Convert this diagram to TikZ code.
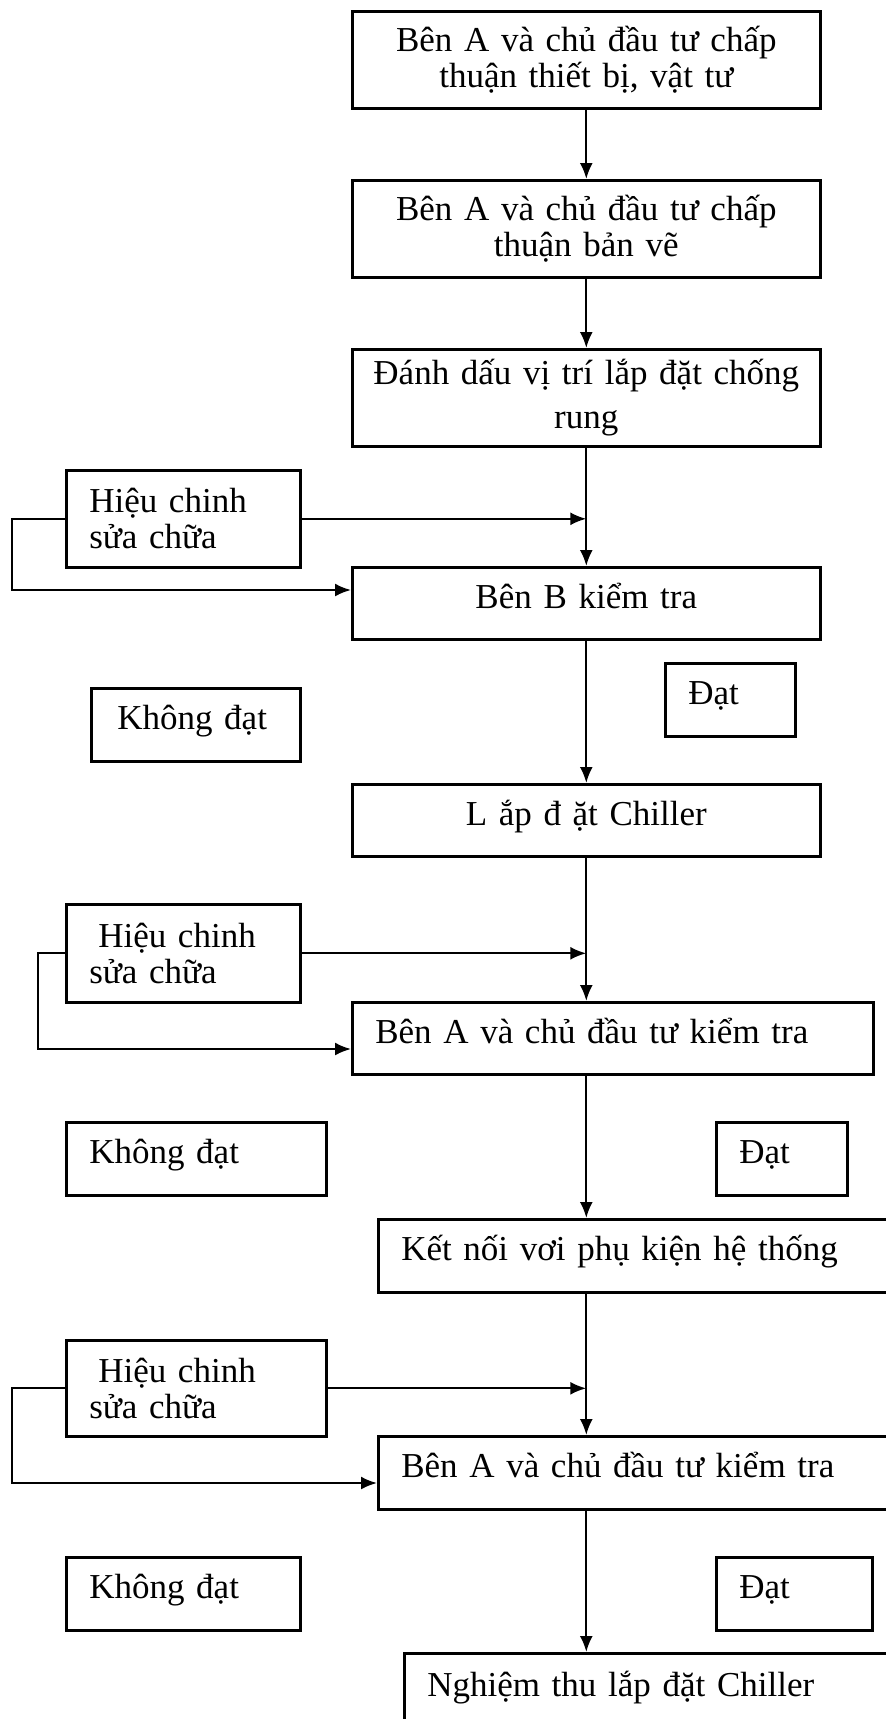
\documentclass[tikz,border=0pt]{standalone}
\usepackage{fontspec}
\setmainfont{Liberation Serif}
\usetikzlibrary{arrows.meta}
\newcommand\boxfont{\fontsize{17.5pt}{18pt}\selectfont}
\newcommand\widefont{\fontsize{17.5pt}{22pt}\selectfont}
\begin{document}
\begin{tikzpicture}[x=0.5pt,y=-0.5pt,
  box/.style={draw, line width=1.3pt, rectangle, anchor=north west,
    inner ysep=0pt, font=\boxfont},
  cbox/.style={box, align=center, inner xsep=4pt},
  lbox/.style={box, align=left, inner xsep=11.5pt},
  one/.style={text height=12pt, text depth=7pt},
  arr/.style={line width=1.1pt, -{Latex[length=8pt,width=6.5pt]}}
]
\useasboundingbox (0,0) rectangle (886,1719);
\clip (0,0) rectangle (886,1719);

% main chain
\node[cbox, minimum width=234pt, minimum height=48.5pt, text width=226pt]
  (b1) at (351,10) {Bên A và chủ đầu tư chấp\\thuận thiết bị, vật tư};
\node[cbox, minimum width=234pt, minimum height=48.5pt, text width=226pt]
  (b2) at (351,179) {Bên A và chủ đầu tư chấp\\thuận bản vẽ};
\node[cbox, font=\widefont, minimum width=234pt, minimum height=48.5pt, text width=226pt]
  (b3) at (351,348) {Đánh dấu vị trí lắp đặt chống\\rung};
\node[cbox, one, minimum width=234pt, minimum height=36pt, text width=226pt]
  (b4) at (351,566) {Bên B kiểm tra};
\node[cbox, one, minimum width=234pt, minimum height=36pt, text width=226pt]
  (b5) at (351,783) {L ắp đ ặt Chiller};
\node[lbox, one, minimum width=260.5pt, minimum height=36pt, text width=237.5pt]
  (b6) at (351,1001) {Bên A và chủ đầu tư kiểm tra};
\node[lbox, one, minimum width=264pt, minimum height=36.5pt, text width=241pt]
  (b7) at (377,1218) {Kết nối vơi phụ kiện hệ thống};
\node[lbox, one, minimum width=264pt, minimum height=36.5pt, text width=241pt]
  (b8) at (377,1435) {Bên A và chủ đầu tư kiểm tra};
\node[lbox, one, minimum width=251pt, minimum height=38pt, text width=228pt]
  (b9) at (403,1652) {Nghiệm thu lắp đặt Chiller};

% correction boxes
\node[lbox, minimum width=117pt, minimum height=48.5pt, text width=94pt]
  (h1) at (65,469) {Hiệu chinh\\sửa chữa};
\node[lbox, minimum width=117pt, minimum height=49pt, text width=94pt]
  (h2) at (65,903) {\hspace{4.5pt}Hiệu chinh\\sửa chữa};
\node[lbox, minimum width=130pt, minimum height=48pt, text width=107pt]
  (h3) at (65,1339) {\hspace{4.5pt}Hiệu chinh\\sửa chữa};

% result labels
\node[lbox, one, minimum width=104.5pt, minimum height=36.5pt, text width=81.5pt]
  (k1) at (90,687) {\hspace{1.5pt}Không đạt};
\node[lbox, one, minimum width=130pt, minimum height=36.5pt, text width=107pt]
  (k2) at (65,1121) {Không đạt};
\node[lbox, one, minimum width=117pt, minimum height=36.5pt, text width=94pt]
  (k3) at (65,1556) {Không đạt};
\node[lbox, one, minimum width=65pt, minimum height=36.5pt, text width=42pt]
  (d1) at (664,662) {Đạt};
\node[lbox, one, minimum width=65.5pt, minimum height=36.5pt, text width=42.5pt]
  (d2) at (715,1121) {Đạt};
\node[lbox, one, minimum width=78pt, minimum height=36.5pt, text width=55pt]
  (d3) at (715,1556) {Đạt};

% return corners of the correction loops
\coordinate (r1) at (12,590);
\coordinate (r2) at (38,1049);
\coordinate (r3) at (12,1483);

% connectors, all on the axis through b1
\draw[arr] (b1) -- (b2);
\draw[arr] (b2) -- (b3);
\draw[arr] (b3) -- (b4);
\draw[arr] (h1.east) -- (h1.east -| b1.south);
\draw[arr] (h1.west) -| (r1) -- (r1 -| b4.west);
\draw[arr] (b4) -- (b5);
\draw[arr] (b5.south) -- (b5.south |- b6.north);
\draw[arr] (h2.east) -- (h2.east -| b1.south);
\draw[arr] (h2.west) -| (r2) -- (r2 -| b6.west);
\draw[arr] (b6.south -| b1.south) -- (b1.south |- b7.north);
\draw[arr] (b7.south -| b1.south) -- (b1.south |- b8.north);
\draw[arr] (h3.east) -- (h3.east -| b1.south);
\draw[arr] (h3.west) -| (r3) -- (r3 -| b8.west);
\draw[arr] (b8.south -| b1.south) -- (b1.south |- b9.north);
\end{tikzpicture}
\end{document}
